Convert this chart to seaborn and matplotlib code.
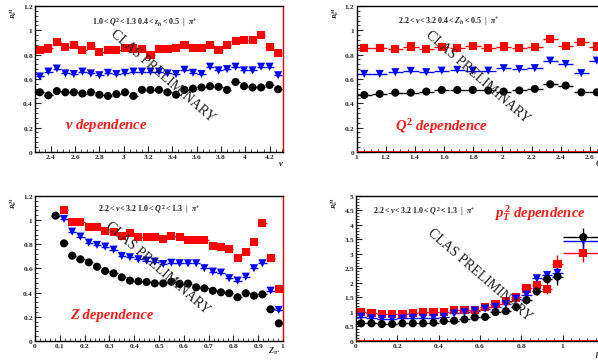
import numpy as np
import pandas as pd
import seaborn as sns
import matplotlib
matplotlib.use("Agg")
import matplotlib.pyplot as plt
from matplotlib.ticker import MultipleLocator, FuncFormatter

# nu dependence (1.0<Q2<1.3, 0.4<zh<0.5)
nu_bins = [2.31, 2.38, 2.45, 2.52, 2.59, 2.66, 2.73, 2.80, 2.87, 2.94, 3.01, 3.08, 3.15, 3.22, 3.29,
           3.36, 3.43, 3.50, 3.57, 3.64, 3.71, 3.78, 3.85, 3.92, 3.99, 4.06, 4.13, 4.20, 4.27]
nu_red = [0.84, 0.85, 0.90, 0.86, 0.88, 0.84, 0.87, 0.82, 0.84, 0.84, 0.855, 0.85, 0.845, 0.80, 0.845,
          0.845, 0.855, 0.875, 0.855, 0.855, 0.875, 0.835, 0.875, 0.91, 0.92, 0.92, 0.96, 0.86, 0.81]
nu_blue = [0.62, 0.66, 0.685, 0.645, 0.64, 0.66, 0.645, 0.63, 0.65, 0.64, 0.65, 0.66, 0.66, 0.66, 0.66,
           0.645, 0.64, 0.675, 0.65, 0.64, 0.70, 0.67, 0.68, 0.70, 0.67, 0.67, 0.70, 0.70, 0.63]
nu_black = [0.49, 0.465, 0.50, 0.49, 0.49, 0.48, 0.49, 0.47, 0.46, 0.475, 0.49, 0.46, 0.51, 0.51, 0.51,
            0.49, 0.47, 0.51, 0.52, 0.53, 0.54, 0.535, 0.51, 0.575, 0.54, 0.53, 0.53, 0.55, 0.515]

# Q2 dependence (2.2<nu<3.2, 0.4<zh<0.5)
q2_bins = [1.053, 1.159, 1.266, 1.372, 1.478, 1.584, 1.691, 1.797, 1.903, 2.009, 2.116, 2.222,
           2.328, 2.434, 2.541, 2.647]
q2_red = [0.857, 0.857, 0.844, 0.866, 0.847, 0.86, 0.852, 0.871, 0.857, 0.866, 0.852, 0.86,
          0.928, 0.874, 0.90, 0.866]
q2_blue = [0.641, 0.641, 0.655, 0.666, 0.655, 0.668, 0.674, 0.668, 0.668, 0.688, 0.68, 0.688,
           0.75, 0.723, 0.647, 0.75]
q2_black = [0.468, 0.477, 0.487, 0.487, 0.496, 0.509, 0.509, 0.509, 0.505, 0.496, 0.505, 0.518,
            0.556, 0.545, 0.49, 0.49]

# z dependence (2.2<nu<3.2, 1.0<Q2<1.3)
z_bins = [0.083, 0.117, 0.150, 0.183, 0.217, 0.250, 0.283, 0.317, 0.350, 0.383, 0.417, 0.450,
          0.483, 0.517, 0.550, 0.583, 0.617, 0.650, 0.683, 0.717, 0.750, 0.783, 0.817, 0.850,
          0.883, 0.917, 0.950, 0.983]
z_red = [np.nan, 1.084, 0.988, 0.988, 0.941, 0.941, 0.911, 0.90, 0.872, 0.892, 0.858, 0.858, 0.858,
         0.844, 0.869, 0.864, 0.836, 0.836, 0.836, 0.786, 0.781, 0.759, 0.684, 0.739, 0.822, 0.974,
         0.69, 0.428]
z_blue = [np.nan, 1.01, 0.905, 0.864, 0.814, 0.795, 0.781, 0.756, 0.704, 0.693, 0.676, 0.665, 0.657,
          0.637, 0.648, 0.643, 0.643, 0.643, 0.602, 0.574, 0.566, 0.519, 0.50, 0.532, 0.602, 0.643,
          0.416, 0.257]
z_black = [1.037, 0.808, 0.706, 0.676, 0.651, 0.615, 0.579, 0.56, 0.527, 0.50, 0.494, 0.488, 0.477,
           0.477, 0.49, 0.472, 0.475, 0.444, 0.436, 0.416, 0.403, 0.395, 0.362, 0.395, 0.375, 0.386,
           0.262, 0.146]

# pT2 dependence (2.2<nu<3.2, 1.0<Q2<1.3)
pt2_bins = [0.025, 0.075, 0.125, 0.175, 0.225, 0.275, 0.325, 0.375, 0.425, 0.475, 0.525, 0.575,
            0.625, 0.675, 0.725, 0.775, 0.825, 0.875, 0.925, 0.975, 1.1]
pt2_xerr = [0.025] * 20 + [0.1]
pt2_red = [0.99, 0.95, 0.93, 0.93, 0.93, 0.98, 0.99, 1.0, 1.0, 1.07, 1.07, 1.08, 1.18, 1.26, 1.38,
           1.50, 1.81, 1.94, 1.79, 2.67, 3.02]
pt2_blue = [0.84, 0.78, 0.76, 0.76, 0.78, 0.80, 0.80, 0.80, 0.84, 0.95, 0.99, 1.05, 1.12, 1.18, 1.28,
            1.46, 1.60, 2.16, 2.27, 2.35, 3.45]
pt2_black = [0.61, 0.61, 0.585, 0.585, 0.61, 0.61, 0.61, 0.63, 0.69, 0.70, 0.745, 0.815, 0.83, 1.0,
             1.03, 1.17, 1.41, 1.71, 2.13, 2.22, 3.58]
pt2_yerr = [0.04, 0.04, 0.04, 0.04, 0.04, 0.04, 0.04, 0.05, 0.05, 0.05, 0.06, 0.06, 0.07, 0.08,
            0.09, 0.1, 0.12, 0.14, 0.16, 0.3, 0.3]

sns.set_style("ticks", {"xtick.direction": "in", "ytick.direction": "in"})
plt.rcParams["font.family"] = ["Liberation Serif", "DejaVu Serif"]
plt.rcParams["mathtext.fontset"] = "custom"
plt.rcParams["mathtext.it"] = "Liberation Serif:italic:bold"
plt.rcParams["mathtext.rm"] = "Liberation Serif:bold"
plt.rcParams["mathtext.bf"] = "Liberation Serif:bold"
plt.rcParams["mathtext.default"] = "it"

colors = {"red": "#ff0000", "blue": "#0000ff", "black": "#000000"}
markers = {"red": "s", "blue": "v", "black": "o"}

fig = plt.figure(figsize=(5.98, 3.60), dpi=100)
W = 0.4147
axes = [
    fig.add_axes([0.0585, 0.578, W, 0.4056]),
    fig.add_axes([0.5962, 0.578, W, 0.4056]),
    fig.add_axes([0.0585, 0.0528, W, 0.4028]),
    fig.add_axes([0.5953, 0.0528, W, 0.4028]),
]

panels = [
    dict(x=nu_bins, xerr=0.035, yerr=0.01, series=(nu_red, nu_blue, nu_black),
         xlim=(2.27, 4.31), ylim=(0, 1.2), xmaj=0.2, xmin=0.05, ymaj=0.2, ymin=0.04,
         cut=r"$1.0<Q^{2}<1.3\ 0.4<z_{h}<0.5\ \ |\ \ \pi^{+}$", cutpos=(0.23, 0.884),
         dep=r"$\nu$ dependence", deppos=(0.12, 0.178),
         clas=(0.515, 0.52), xlab=r"$\nu$", xlabpos=(0.99, -0.085)),
    dict(x=q2_bins, xerr=0.053, yerr=0.01, series=(q2_red, q2_blue, q2_black),
         xlim=(1.0, 2.7), ylim=(0, 1.2), xmaj=0.2, xmin=0.05, ymaj=0.2, ymin=0.04,
         cut=r"$2.2<\nu<3.2\ 0.4<Z_{h}<0.5\ \ |\ \ \pi^{+}$", cutpos=(0.167, 0.884),
         dep=r"$Q^{2}$ dependence", deppos=(0.155, 0.171),
         clas=(0.49, 0.515), xlab=r"$Q^{2}$", xlabpos=(0.985, -0.085)),
    dict(x=z_bins, xerr=0.0167, yerr=0.01, series=(z_red, z_blue, z_black),
         xlim=(0, 1.0), ylim=(0, 1.2), xmaj=0.1, xmin=0.02, ymaj=0.2, ymin=0.04,
         cut=r"$2.2<\nu<3.2\ 1.0<Q^{2}<1.3\ \ |\ \ \pi^{+}$", cutpos=(0.254, 0.91),
         dep="Z dependence", deppos=(0.141, 0.179),
         clas=(0.496, 0.503), xlab=r"$Z_{\pi^{+}}$", xlabpos=(0.965, -0.07)),
    dict(x=pt2_bins, xerr=pt2_xerr, yerr=pt2_yerr, series=(pt2_red, pt2_blue, pt2_black),
         xlim=(0, 1.2), ylim=(0, 5), xmaj=0.2, xmin=0.04, ymaj=0.5, ymin=0.1,
         cut=r"$2.2<\nu<3.2\ 1.0<Q^{2}<1.3\ \ |\ \ \pi^{+}$", cutpos=(0.069, 0.89),
         dep=r"$p_{T}^{\,2}$ dependence", deppos=(0.556, 0.883),
         clas=(0.5, 0.455), xlab=r"$p_{T}^{2}$", xlabpos=(0.985, -0.09)),
]

fmt = FuncFormatter(lambda v, p: f"${v:g}$")


def make_xfmt(hi):
    # drop tick labels that would sit past the visible edge
    return FuncFormatter(lambda v, p: f"${v:g}$" if v < hi else "")


for k, (ax, p) in enumerate(zip(axes, panels)):
    rows = []
    for name, vals in zip(("red", "blue", "black"), p["series"]):
        for xv, yv in zip(p["x"], vals):
            rows.append({"x": xv, "y": yv, "set": name})
    df = pd.DataFrame(rows)

    for name, vals in zip(("red", "blue", "black"), p["series"]):
        ax.errorbar(p["x"], vals, xerr=p["xerr"], yerr=p["yerr"], fmt="none",
                    ecolor=colors[name], elinewidth=1.0, capsize=0, zorder=2)
    sns.scatterplot(data=df.dropna(), x="x", y="y", hue="set", style="set",
                    palette=colors, markers=markers, s=34, linewidth=0,
                    legend=False, ax=ax, zorder=3)

    ax.set_xlim(*p["xlim"])
    ax.set_ylim(*p["ylim"])
    ax.xaxis.set_major_locator(MultipleLocator(p["xmaj"]))
    ax.xaxis.set_minor_locator(MultipleLocator(p["xmin"]))
    ax.yaxis.set_major_locator(MultipleLocator(p["ymaj"]))
    ax.yaxis.set_minor_locator(MultipleLocator(p["ymin"]))
    if k == 3:
        ax.xaxis.set_major_formatter(make_xfmt(1.1))
    else:
        ax.xaxis.set_major_formatter(fmt)
    ax.yaxis.set_major_formatter(fmt)
    ax.tick_params(which="major", length=4, width=0.8, labelsize=5.3, pad=1)
    ax.tick_params(which="minor", length=2, width=0.6)
    ax.set_xlabel("")
    ax.set_ylabel("")
    for s in ax.spines.values():
        s.set_linewidth(1.0)
        s.set_color("black")
    if k in (0, 2):
        ax.spines["right"].set_color("#e00000")
    else:
        ax.axhline(0, color="#e00000", lw=1.2, zorder=4)

    ax.text(-0.085, 0.99, r"$R_{h}^{M}$", transform=ax.transAxes, rotation=90,
            fontsize=5, ha="center", va="top")
    ax.text(*p["xlabpos"], p["xlab"], transform=ax.transAxes, fontsize=6,
            ha="center", va="center")
    ax.text(*p["cutpos"], p["cut"], transform=ax.transAxes, fontsize=5.8,
            ha="left", va="center")
    ax.text(*p["deppos"], p["dep"], transform=ax.transAxes, fontsize=10.5,
            color="#ff1a1a", fontweight="bold", fontstyle="italic",
            ha="left", va="center")
    ax.text(*p["clas"], "CLAS PRELIMINARY", transform=ax.transAxes, fontsize=10,
            rotation=-41, rotation_mode="anchor", ha="center", va="center",
            color="#222222", zorder=5)

fig.savefig("out.png", dpi=100)
